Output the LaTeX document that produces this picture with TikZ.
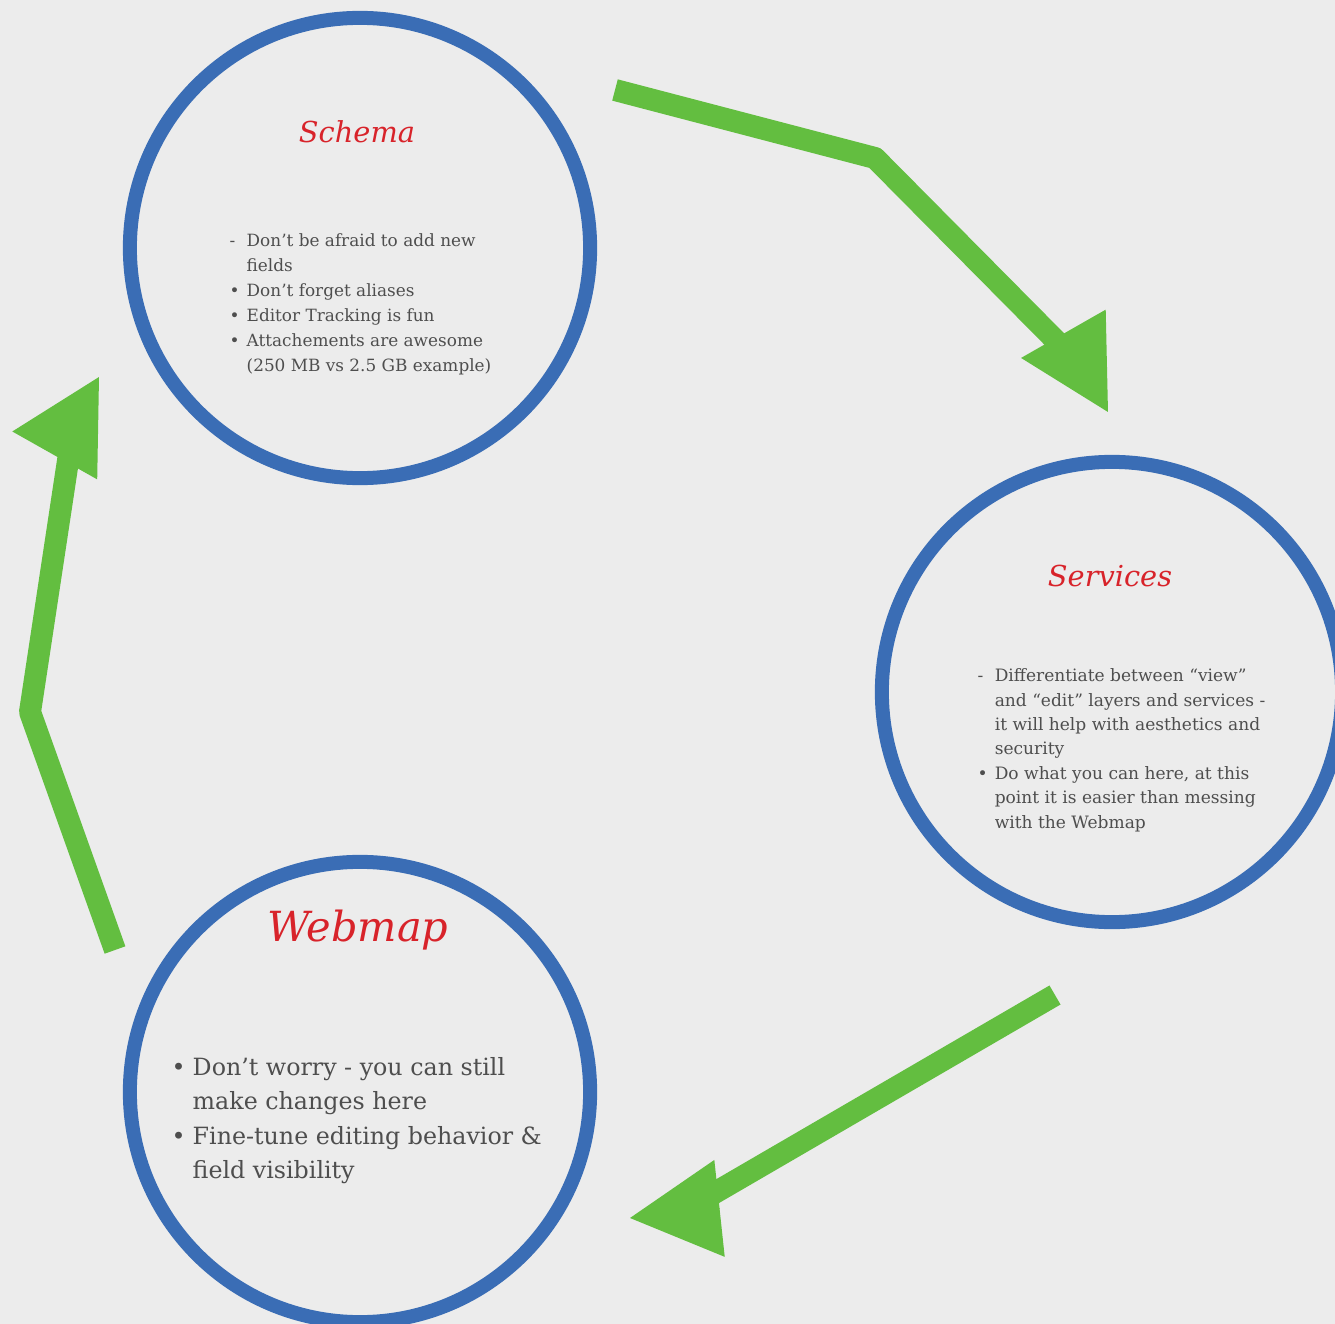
\documentclass[tikz,border=0pt]{standalone}
\usepackage{fontspec}
\setmainfont{DejaVu Serif}
\usetikzlibrary{arrows.meta}
\definecolor{bgcol}{HTML}{ECECEC}
\definecolor{ringblue}{HTML}{3A6DB5}
\definecolor{arrowgreen}{HTML}{63BE40}
\definecolor{titlered}{HTML}{D8232A}
\definecolor{notegray}{HTML}{4E4E4E}
\newcommand{\notelist}[1]{\begin{tabular}{@{}l@{\hspace{2pt}}l@{}}#1\end{tabular}}

\begin{document}
\begin{tikzpicture}[x=0.01cm,y=-0.01cm,
	ring/.style={circle,draw=ringblue,line width=0.14cm,minimum size=4.6cm,inner sep=0pt},
	title/.style={text=titlered,font=\itshape\fontsize{8.2}{10}\selectfont},
	note/.style={text=notegray,anchor=west,inner sep=0pt},
	flow/.style={draw=arrowgreen,line width=0.22cm,line join=round},
	flowhead/.style={draw=arrowgreen,line width=0.5pt,-{Triangle[length=0.9cm,width=0.97cm]}}]
	\clip (0,0) rectangle (1335,1324);
	\fill[bgcol] (0,0) rectangle (1335,1324);
	\node[ring] (schema) at (360,248) {};
	\node[ring] (services) at (1112,692) {};
	\node[ring] (webmap) at (360,1092) {};
	\node[title] (schematitle) at (357,132) {Schema};
	\node[title] (servicestitle) at (1110,576) {Services};
	\node[title,font=\itshape\fontsize{11.8}{14}\selectfont] (webmaptitle) at (358,930) {Webmap};
	\node[note,font=\fontsize{4.8}{7.1}\selectfont] (schemanote) at (229,304) {\notelist{
		- & Don't be afraid to add new\\
		& fields\\
		• & Don't forget aliases\\
		• & Editor Tracking is fun\\
		• & Attachements are awesome\\
		& (250 MB vs 2.5 GB example)}};
	\node[note,font=\fontsize{4.85}{6.95}\selectfont] (servicesnote) at (977,750) {\notelist{
		- & Differentiate between ``view''\\
		& and ``edit'' layers and services -\\
		& it will help with aesthetics and\\
		& security\\
		• & Do what you can here, at this\\
		& point it is easier than messing\\
		& with the Webmap}};
	\node[note,font=\fontsize{6.75}{9.8}\selectfont] (webmapnote) at (171,1120) {\notelist{
		• & Don't worry - you can still\\
		& make changes here\\
		• & Fine-tune editing behavior \&\\
		& field visibility}};
	\coordinate (a1) at (615,90);
	\coordinate (a2) at (875,158);
	\coordinate (a3) at (1083,368);
	\coordinate (ah) at (1063.5,334);
	\coordinate (at) at (1108,412);
	\coordinate (b1) at (1055,995);
	\coordinate (b2) at (680,1213);
	\coordinate (bh) at (719.5,1208.4);
	\coordinate (bt) at (630,1218);
	\coordinate (c1) at (115,950);
	\coordinate (c2) at (30,712);
	\coordinate (c3) at (74,421);
	\coordinate (ch) at (55,455);
	\coordinate (ct) at (99,377);
	\draw[flow] (a1) -- (a2) -- (a3);
	\draw[flowhead] (ah) -- (at);
	\draw[flow] (b1) -- (b2);
	\draw[flowhead] (bh) -- (bt);
	\draw[flow] (c1) -- (c2) -- (c3);
	\draw[flowhead] (ch) -- (ct);
\end{tikzpicture}
\end{document}
